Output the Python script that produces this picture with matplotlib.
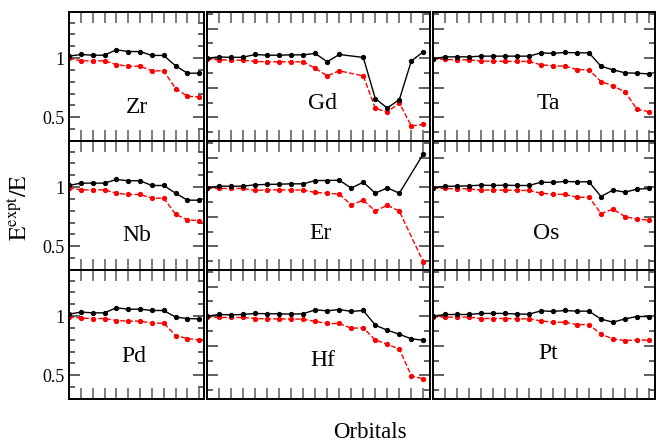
import numpy as np
import matplotlib
matplotlib.use('Agg')
import matplotlib.pyplot as plt
from matplotlib.ticker import MultipleLocator, FixedLocator

plt.rcParams['font.family'] = ['Liberation Serif', 'DejaVu Serif']
plt.rcParams['mathtext.fontset'] = 'stix'

# ---------------- dados ----------------
elementos = [['Zr', 'Gd', 'Ta'], ['Nb', 'Er', 'Os'], ['Pd', 'Hf', 'Pt']]

zr_x = list(range(12))
zr_preto = [1.017, 1.031, 1.025, 1.025, 1.071, 1.056, 1.056, 1.023, 1.023, 0.935, 0.873, 0.873]
zr_verm = [1.0, 0.977, 0.977, 0.977, 0.946, 0.932, 0.932, 0.893, 0.893, 0.743, 0.678, 0.672]

nb_x = list(range(12))
nb_preto = [1.014, 1.034, 1.034, 1.034, 1.065, 1.054, 1.054, 1.014, 1.014, 0.949, 0.890, 0.890]
nb_verm = [0.994, 0.977, 0.977, 0.977, 0.949, 0.938, 0.938, 0.907, 0.907, 0.771, 0.723, 0.718]

pd_x = list(range(12))
pd_preto = [1.017, 1.034, 1.028, 1.028, 1.071, 1.059, 1.059, 1.048, 1.048, 0.992, 0.980, 0.977]
pd_verm = [0.994, 0.983, 0.980, 0.980, 0.963, 0.958, 0.958, 0.941, 0.941, 0.836, 0.811, 0.799]

gd_x = list(range(12)) + list(range(13, 19))
gd_preto = [1.0, 1.011, 1.006, 1.008, 1.031, 1.025, 1.025, 1.028, 1.028, 1.040, 0.969, 1.031,
            1.006, 0.658, 0.579, 0.650, 0.977, 1.054]
gd_verm = [0.992, 0.986, 0.983, 0.983, 0.972, 0.969, 0.969, 0.969, 0.969, 0.915, 0.850, 0.893,
           0.850, 0.576, 0.545, 0.621, 0.427, 0.441]

er_x = list(range(17)) + [18]
er_preto = [0.994, 1.008, 1.008, 1.008, 1.020, 1.023, 1.025, 1.028, 1.028, 1.056, 1.056, 1.059,
            0.992, 1.042, 0.949, 0.994, 0.949, 1.282]
er_verm = [0.992, 0.989, 0.989, 0.989, 0.972, 0.977, 0.977, 0.975, 0.975, 0.955, 0.949, 0.941,
           0.850, 0.890, 0.799, 0.847, 0.797, 0.367]

hf_x = list(range(19))
hf_preto = [1.0, 1.014, 1.011, 1.014, 1.023, 1.020, 1.020, 1.017, 1.020, 1.054, 1.045, 1.056,
            1.040, 1.048, 0.924, 0.881, 0.847, 0.808, 0.797]
hf_verm = [0.994, 0.989, 0.989, 0.989, 0.980, 0.977, 0.977, 0.975, 0.975, 0.955, 0.938, 0.938,
           0.898, 0.901, 0.799, 0.763, 0.721, 0.497, 0.469]

ta_x = list(range(19))
ta_preto = [0.994, 1.011, 1.011, 1.011, 1.017, 1.017, 1.017, 1.017, 1.017, 1.045, 1.040, 1.048,
            1.045, 1.045, 0.932, 0.901, 0.876, 0.873, 0.867]
ta_verm = [0.994, 0.989, 0.986, 0.986, 0.975, 0.975, 0.972, 0.972, 0.972, 0.944, 0.935, 0.932,
           0.904, 0.901, 0.802, 0.766, 0.715, 0.568, 0.548]

os_x = list(range(19))
os_preto = [0.994, 1.008, 1.008, 1.011, 1.017, 1.014, 1.017, 1.014, 1.014, 1.042, 1.040, 1.048,
            1.045, 1.045, 0.921, 0.975, 0.958, 0.983, 0.989]
os_verm = [0.992, 0.989, 0.986, 0.986, 0.975, 0.975, 0.975, 0.972, 0.972, 0.949, 0.941, 0.938,
           0.915, 0.915, 0.777, 0.814, 0.751, 0.729, 0.723]

pt_x = list(range(19))
pt_preto = [1.0, 1.014, 1.014, 1.014, 1.023, 1.023, 1.023, 1.017, 1.017, 1.045, 1.040, 1.048,
            1.042, 1.042, 0.975, 0.949, 0.977, 0.997, 0.997]
pt_verm = [0.994, 0.992, 0.992, 0.992, 0.980, 0.980, 0.980, 0.977, 0.977, 0.960, 0.949, 0.949,
           0.929, 0.929, 0.847, 0.808, 0.794, 0.799, 0.797]

dados = {'Zr': (zr_x, zr_preto, zr_verm), 'Nb': (nb_x, nb_preto, nb_verm), 'Pd': (pd_x, pd_preto, pd_verm),
         'Gd': (gd_x, gd_preto, gd_verm), 'Er': (er_x, er_preto, er_verm), 'Hf': (hf_x, hf_preto, hf_verm),
         'Ta': (ta_x, ta_preto, ta_verm), 'Os': (os_x, os_preto, os_verm), 'Pt': (pt_x, pt_preto, pt_verm)}

# posicao dos rotulos (fracao do eixo)
pos_rotulo = {'Zr': (0.50, 0.26), 'Gd': (0.52, 0.29), 'Ta': (0.52, 0.29),
              'Nb': (0.50, 0.27), 'Er': (0.51, 0.28), 'Os': (0.51, 0.28),
              'Pd': (0.48, 0.33), 'Hf': (0.52, 0.30), 'Pt': (0.52, 0.35)}

# ---------------- layout em pixels ----------------
W, H = 656, 443
colunas = [(69, 204), (207, 430), (433, 655)]
linhas = [(12, 141), (141, 270), (270, 399)]
xlims = [(0, 11.4), (0, 18.55), (0, 18.5)]

fig = plt.figure(figsize=(W / 100, H / 100), dpi=100)

for i, (y0, y1) in enumerate(linhas):
    for j, (x0, x1) in enumerate(colunas):
        ax = fig.add_axes([x0 / W, 1 - y1 / H, (x1 - x0) / W, (y1 - y0) / H])
        nome = elementos[i][j]
        xs, preto, verm = dados[nome]
        ax.plot(xs, verm, color='red', ls='--', lw=1, marker='o', ms=2.8, zorder=2)
        ax.plot(xs, preto, color='black', ls='-', lw=1, marker='o', ms=2.8, zorder=3)
        ax.set_xlim(*xlims[j])
        ax.set_ylim(0.3, 1.39)
        n = 12 if j == 0 else 19
        ax.xaxis.set_major_locator(FixedLocator(np.arange(1, n)))
        ax.set_xticklabels([])
        if j == 0:
            ax.yaxis.set_major_locator(FixedLocator([0.5, 1.0]))
            ax.yaxis.set_minor_locator(MultipleLocator(0.1))
            ax.set_yticklabels(['0.5', '1'])
        else:
            ax.yaxis.set_major_locator(MultipleLocator(0.25))
            ax.yaxis.set_minor_locator(MultipleLocator(0.125))
            ax.set_yticklabels([])
        ax.tick_params(axis='x', which='major', direction='in', top=True, bottom=True,
                       length=8, width=1.2, color='#666666')
        ax.tick_params(axis='y', which='major', direction='in', left=True, right=True,
                       length=8, width=1.2, color='#444444', labelsize=13, pad=3)
        ax.tick_params(axis='y', which='minor', direction='in', left=True, right=True,
                       length=4, width=1.2, color='#444444')
        for s in ax.spines.values():
            s.set_linewidth(1.4)
        rx, ry = pos_rotulo[nome]
        ax.text(rx, ry, nome, transform=ax.transAxes, ha='center', va='center', fontsize=17)

fig.text(20 / W, 1 - 207 / H, r'$\mathrm{E^{expt}/E}$', rotation=90, ha='center', va='center', fontsize=17)
fig.text(370 / W, 1 - 432 / H, 'Orbitals', ha='center', va='center', fontsize=16.5)

fig.savefig('out.png', dpi=100)
